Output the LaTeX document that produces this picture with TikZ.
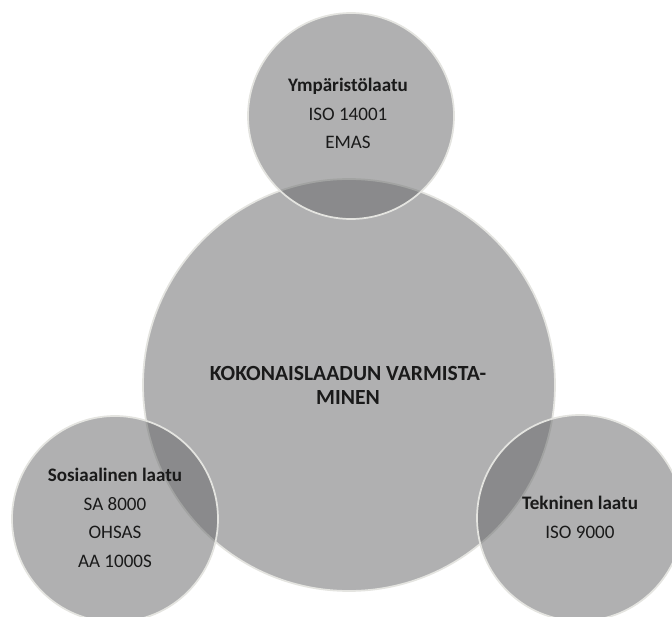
\documentclass[tikz,border=0pt]{standalone}
\usepackage{fontspec}
\setmainfont{Carlito}
\definecolor{circfill}{HTML}{67686A}
\definecolor{circline}{HTML}{E4E4E0}
\definecolor{txt}{HTML}{1A1A1A}
\tikzset{
  bubble/.style={circle, inner sep=0pt, fill=circfill, fill opacity=0.52, draw=circline, line width=1.3pt},
  lbl/.style={text=txt, align=center, font=\fontsize{14.3}{21.4}\selectfont, inner sep=0pt},
  biglbl/.style={text=txt, align=center, font=\fontsize{16.2}{18}\selectfont\bfseries, inner sep=0pt}
}
\begin{document}
\begin{tikzpicture}[x=0.75pt,y=-0.75pt]
\useasboundingbox (0,0) rectangle (672,617);
\clip (0,0) rectangle (672,617);
\node[bubble, minimum size=412*0.75pt] (big) at (349,385) {};
\node[bubble, minimum size=206*0.75pt] (top) at (351,116) {};
\node[bubble, minimum size=206*0.75pt] (left) at (115,519) {};
\node[bubble, minimum size=206*0.75pt] (right) at (580,518) {};
\node[biglbl] (bigtxt) at (348,385) {KOKONAISLAADUN VARMISTA-\\MINEN};
\node[lbl, anchor=north] (toptxt) at (348,78) {\textbf{Ympäristölaatu}\\ISO 14001\\EMAS};
\node[lbl, anchor=north] (lefttxt) at (115,468) {\textbf{Sosiaalinen laatu}\\SA 8000\\OHSAS\\AA 1000S};
\node[lbl, anchor=north] (righttxt) at (580,496) {\textbf{Tekninen laatu}\\ISO 9000};
\end{tikzpicture}
\end{document}
